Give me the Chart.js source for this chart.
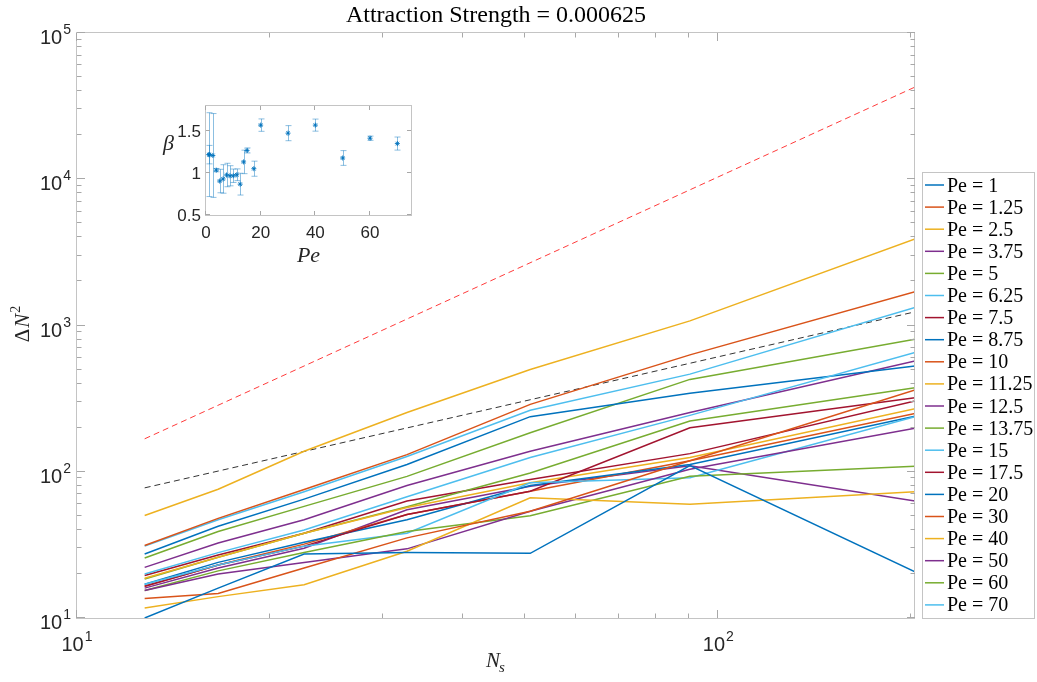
<!DOCTYPE html>
<html>
<head>
<meta charset="utf-8">
<script src="https://cdn.jsdelivr.net/npm/chart.js@4"></script>
<style>
  html, body { margin: 0; padding: 0; background: #fff; }
  #wrap { position: relative; width: 1037px; height: 682px; }
  #main { position: absolute; left: 0; top: 0; }
  #inset { position: absolute; left: 150px; top: 95px; }
</style>
</head>
<body>
<div id="wrap">
  <canvas id="main" width="1037" height="682"></canvas>
  <canvas id="inset" width="270" height="180"></canvas>
</div>
<script>
// Segment counts N_s at which the fluctuation was measured
const NS = [12.75, 16.6, 22.6, 32.7, 50.9, 90.3, 202.6];

// Péclet numbers of the runs
const PE_LABELS = ['1', '1.25', '2.5', '3.75', '5', '6.25', '7.5', '8.75', '10', '11.25',
                   '12.5', '13.75', '15', '17.5', '20', '30', '40', '50', '60', '70'];

// ΔN² for each Péclet number, one value per N_s
const dn2_pe1     = [10.0, 16.0, 27.4, 28.0, 27.7, 110, 20.7];
const dn2_pe1_25  = [13.6, 14.7, 22.0, 35.3, 53.7, 119, 362];
const dn2_pe2_5   = [11.7, 14.0, 16.9, 28.6, 66.4, 60, 73];
const dn2_pe3_75  = [15.4, 20.0, 24.0, 29.7, 53.7, 104, 198];
const dn2_pe5     = [15.4, 21.0, 28.0, 39.0, 50.1, 93, 109];
const dn2_pe6_25  = [17.0, 23.0, 31.0, 38.0, 84.0, 91, 238];
const dn2_pe7_5   = [16.5, 23.0, 31.0, 51.0, 73.6, 200, 321];
const dn2_pe8_75  = [17.0, 24.0, 33.0, 47.0, 80.6, 112, 240];
const dn2_pe10    = [16.5, 23.0, 32.0, 51.0, 73.6, 119, 250];
const dn2_pe11_25 = [18.7, 26.0, 38.0, 57.0, 84.0, 125, 270];
const dn2_pe12_5  = [16.0, 22.0, 30.0, 55.0, 79.6, 110, 63];
const dn2_pe13_75 = [18.5, 26.0, 38.0, 57.6, 98.0, 222, 376];
const dn2_pe15    = [20.0, 28.0, 40.0, 67.4, 125, 243, 653];
const dn2_pe17_5  = [19.5, 27.0, 38.0, 63.0, 88.5, 133, 305];
const dn2_pe20    = [27.4, 42.4, 65.0, 112, 238, 344, 529];
const dn2_pe30    = [31.3, 48.0, 75.7, 131, 289, 630, 1700];
const dn2_pe40    = [50.2, 76.0, 138, 254, 500, 1075, 3900];
const dn2_pe50    = [22.2, 32.6, 47.0, 80.6, 138, 254, 573];
const dn2_pe60    = [25.7, 39.0, 58.0, 93.0, 185, 428, 805];
const dn2_pe70    = [31.0, 47.0, 73.0, 127, 263, 465, 1330];

const SERIES = [dn2_pe1, dn2_pe1_25, dn2_pe2_5, dn2_pe3_75, dn2_pe5, dn2_pe6_25, dn2_pe7_5,
                dn2_pe8_75, dn2_pe10, dn2_pe11_25, dn2_pe12_5, dn2_pe13_75, dn2_pe15,
                dn2_pe17_5, dn2_pe20, dn2_pe30, dn2_pe40, dn2_pe50, dn2_pe60, dn2_pe70];

// Reference power laws, given at the first and last N_s
const REF_NS = [12.75, 202.6];
const REF_SLOPE2 = [168, 42700];
const REF_SLOPE1 = [77.6, 1240];

// Inset: fitted exponent β against Pe with its uncertainty
const PE_VALUES = [1, 1.25, 2.5, 3.75, 5, 6.25, 7.5, 8.75, 10, 11.25, 12.5, 13.75, 15, 17.5, 20, 30, 40, 50, 60, 70];
const BETA      = [1.22, 1.22, 1.21, 1.035, 0.905, 0.93, 0.977, 0.968, 0.968, 0.98, 0.868, 1.133, 1.27, 1.052, 1.572, 1.476, 1.572, 1.18, 1.416, 1.352];
const BETA_ERR  = [0.11, 0.5, 0.5, 0.02, 0.14, 0.17, 0.14, 0.12, 0.08, 0.07, 0.13, 0.14, 0.03, 0.09, 0.074, 0.09, 0.072, 0.088, 0.025, 0.078];

// MATLAB default line colour order
const COLOR_ORDER = ['#0072BD', '#D95319', '#EDB120', '#7E2F8E', '#77AC30', '#4DBEEE', '#A2142F'];

const SANS = '"Liberation Sans", Arial, Helvetica, sans-serif';
const SERIF = '"Liberation Serif", "Times New Roman", serif';
const TEXT = '#262626';
const BOX = '#c4c4c4';
const TICK = '#a8a8a8';

function line(ctx, x1, y1, x2, y2) {
  ctx.beginPath(); ctx.moveTo(x1, y1); ctx.lineTo(x2, y2); ctx.stroke();
}

// "10" with a raised exponent
function powLabel(ctx, exp, x, base, align) {
  ctx.font = '20px ' + SANS;
  const w1 = ctx.measureText('10').width;
  ctx.font = '14px ' + SANS;
  const w2 = ctx.measureText(String(exp)).width;
  const x0 = align === 'right' ? x - w1 - w2 - 1 : x - (w1 + w2 + 1) / 2;
  ctx.textAlign = 'left';
  ctx.textBaseline = 'alphabetic';
  ctx.fillStyle = TEXT;
  ctx.font = '20px ' + SANS;
  ctx.fillText('10', x0, base);
  ctx.font = '14px ' + SANS;
  ctx.fillText(String(exp), x0 + w1 + 1, base - 10);
}

const mainDecor = {
  id: 'mainDecor',
  afterDatasetsDraw(chart) {
    const { ctx, chartArea: a, scales: { x, y } } = chart;
    ctx.save();
    ctx.lineWidth = 1;

    // axes box
    ctx.strokeStyle = BOX;
    ctx.strokeRect(Math.round(a.left) - 0.5, Math.round(a.top) - 0.5,
                   Math.round(a.right - a.left), Math.round(a.bottom - a.top) + 1);

    // inward log ticks on all four sides
    ctx.strokeStyle = TICK;
    for (let k = 1; k <= 5; k++) {
      for (let m = 1; m <= 9; m++) {
        const v = m * Math.pow(10, k);
        if (v > y.max * 1.0001) break;
        const py = Math.round(y.getPixelForValue(v)) - 0.5;
        const L = m === 1 ? 8 : 4.5;
        line(ctx, a.left, py, a.left + L, py);
        line(ctx, a.right, py, a.right - L, py);
      }
    }
    for (let k = 1; k <= 2; k++) {
      for (let m = 1; m <= 9; m++) {
        const v = m * Math.pow(10, k);
        if (v > x.max * 1.0001) break;
        const px = Math.round(x.getPixelForValue(v)) - 0.5;
        const L = m === 1 ? 8 : 4.5;
        line(ctx, px, a.bottom, px, a.bottom - L);
        line(ctx, px, a.top, px, a.top + L);
      }
    }

    // tick labels
    for (let k = 1; k <= 5; k++) {
      powLabel(ctx, k, 71, y.getPixelForValue(Math.pow(10, k)) + 11, 'right');
    }
    for (let k = 1; k <= 2; k++) {
      powLabel(ctx, k, x.getPixelForValue(Math.pow(10, k)), a.bottom + 32.5, 'center');
    }

    // title
    ctx.fillStyle = '#000';
    ctx.textAlign = 'center';
    ctx.textBaseline = 'alphabetic';
    ctx.font = '24px ' + SERIF;
    ctx.fillText('Attraction Strength = 0.000625', (a.left + a.right) / 2, 22);

    // x label: N_s
    {
      ctx.textAlign = 'left';
      ctx.font = 'italic 21px ' + SERIF;
      const wN = ctx.measureText('N').width;
      ctx.font = 'italic 15px ' + SERIF;
      const ws = ctx.measureText('s').width;
      const x0 = (a.left + a.right) / 2 - (wN + ws) / 2;
      ctx.fillStyle = TEXT;
      ctx.font = 'italic 21px ' + SERIF;
      ctx.fillText('N', x0, 667);
      ctx.font = 'italic 15px ' + SERIF;
      ctx.fillText('s', x0 + wN - 1, 672);
    }

    // y label: ΔN²
    {
      ctx.save();
      ctx.translate(29, 324);
      ctx.rotate(-Math.PI / 2);
      ctx.textAlign = 'left';
      ctx.font = '21px ' + SERIF;
      const wD = ctx.measureText('Δ').width;
      ctx.font = 'italic 21px ' + SERIF;
      const wN = ctx.measureText('N').width;
      ctx.font = '14px ' + SERIF;
      const w2 = ctx.measureText('2').width;
      const x0 = -(wD + wN + w2 + 2) / 2;
      ctx.fillStyle = TEXT;
      ctx.font = '21px ' + SERIF;
      ctx.fillText('Δ', x0, 0);
      ctx.font = 'italic 21px ' + SERIF;
      ctx.fillText('N', x0 + wD + 1, 0);
      ctx.font = '14px ' + SERIF;
      ctx.fillText('2', x0 + wD + wN + 2, -9);
      ctx.restore();
    }

    // legend
    {
      const lx = 922, ly = 172, lw = 112, lh = 446;
      ctx.fillStyle = '#fff';
      ctx.fillRect(lx, ly, lw, lh);
      ctx.strokeStyle = BOX;
      ctx.strokeRect(lx + 0.5, ly + 0.5, lw, lh);
      const items = chart.data.datasets.filter(d => d.inLegend);
      items.forEach((d, i) => {
        const cy = 185 + i * 22.1;
        ctx.strokeStyle = d.borderColor;
        ctx.lineWidth = 1.5;
        line(ctx, 925, cy, 944, cy);
        ctx.fillStyle = '#000';
        ctx.font = '20px ' + SERIF;
        ctx.textAlign = 'left';
        ctx.textBaseline = 'alphabetic';
        ctx.fillText(d.label, 947, cy + 6.5);
      });
    }
    ctx.restore();
  }
};

const datasets = SERIES.map((vals, i) => ({
  label: 'Pe = ' + PE_LABELS[i],
  inLegend: true,
  data: NS.map((n, j) => ({ x: n, y: vals[j] })),
  borderColor: COLOR_ORDER[i % COLOR_ORDER.length],
  borderWidth: 1.5,
  pointRadius: 0,
  fill: false,
  tension: 0
}));
datasets.push({
  label: 'slope 2',
  inLegend: false,
  data: REF_NS.map((n, j) => ({ x: n, y: REF_SLOPE2[j] })),
  borderColor: '#ff3b3b',
  borderWidth: 1,
  borderDash: [6, 4],
  pointRadius: 0
});
datasets.push({
  label: 'slope 1',
  inLegend: false,
  data: REF_NS.map((n, j) => ({ x: n, y: REF_SLOPE1[j] })),
  borderColor: '#333333',
  borderWidth: 1,
  borderDash: [6, 4],
  pointRadius: 0
});

new Chart(document.getElementById('main'), {
  type: 'line',
  data: { datasets },
  options: {
    responsive: false,
    animation: false,
    devicePixelRatio: 1,
    layout: { padding: { top: 33, right: 122, left: 0, bottom: 0 } },
    plugins: { legend: { display: false }, tooltip: { enabled: false }, title: { display: false } },
    scales: {
      x: {
        type: 'logarithmic', min: 10, max: NS[NS.length - 1],
        ticks: { display: false }, grid: { display: false }, border: { display: false },
        afterFit(s) { s.height = 64; }
      },
      y: {
        type: 'logarithmic', min: 10, max: 1e5,
        ticks: { display: false }, grid: { display: false }, border: { display: false },
        afterFit(s) { s.width = 77; }
      }
    }
  },
  plugins: [mainDecor]
});

// ---------- inset: β vs Pe ----------
const insetDecor = {
  id: 'insetDecor',
  beforeDatasetsDraw(chart) {
    const { ctx, chartArea: a, scales: { x, y } } = chart;
    ctx.save();
    ctx.fillStyle = '#fff';
    ctx.fillRect(a.left, a.top, a.right - a.left, a.bottom - a.top);
    // error bars
    ctx.strokeStyle = 'rgba(0,114,189,0.45)';
    ctx.lineWidth = 1;
    PE_VALUES.forEach((p, i) => {
      const px = Math.round(x.getPixelForValue(p)) + 0.5;
      const yt = y.getPixelForValue(BETA[i] + BETA_ERR[i]);
      const yb = y.getPixelForValue(BETA[i] - BETA_ERR[i]);
      line(ctx, px, yt, px, yb);
      line(ctx, px - 3, yt, px + 3, yt);
      line(ctx, px - 3, yb, px + 3, yb);
    });
    ctx.restore();
  },
  afterDatasetsDraw(chart) {
    const { ctx, chartArea: a, scales: { x, y } } = chart;
    ctx.save();
    ctx.lineWidth = 1;
    ctx.strokeStyle = BOX;
    ctx.strokeRect(Math.round(a.left) - 0.5, Math.round(a.top) - 0.5,
                   Math.round(a.right - a.left) + 1, Math.round(a.bottom - a.top) + 1);
    ctx.strokeStyle = TICK;
    const yTicks = [0.5, 1, 1.5];
    const xTicks = [0, 20, 40, 60];
    yTicks.forEach(v => {
      const py = Math.round(y.getPixelForValue(v)) - 0.5;
      line(ctx, a.left, py, a.left + 4, py);
      line(ctx, a.right, py, a.right - 4, py);
    });
    xTicks.forEach(v => {
      const px = Math.round(x.getPixelForValue(v)) - 0.5;
      line(ctx, px, a.bottom, px, a.bottom - 4);
      line(ctx, px, a.top, px, a.top + 4);
    });
    ctx.fillStyle = TEXT;
    ctx.font = '17px ' + SANS;
    ctx.textAlign = 'right';
    ctx.textBaseline = 'middle';
    yTicks.forEach(v => ctx.fillText(String(v), a.left - 5, y.getPixelForValue(v) + 1));
    ctx.textAlign = 'center';
    xTicks.forEach(v => ctx.fillText(String(v), x.getPixelForValue(v), a.bottom + 18));
    // axis labels
    ctx.textBaseline = 'alphabetic';
    ctx.font = 'italic 22px ' + SERIF;
    ctx.fillText('Pe', (a.left + a.right) / 2, a.bottom + 47);
    ctx.textAlign = 'left';
    ctx.fillText('β', 13, 55);
    ctx.restore();
  }
};

new Chart(document.getElementById('inset'), {
  type: 'scatter',
  data: {
    datasets: [{
      data: PE_VALUES.map((p, i) => ({ x: p, y: BETA[i] })),
      pointStyle: 'star',
      pointRadius: 2.5,
      borderColor: 'rgba(0,114,189,0.9)',
      backgroundColor: 'rgba(0,114,189,0.9)',
      borderWidth: 1
    }]
  },
  options: {
    responsive: false,
    animation: false,
    devicePixelRatio: 1,
    layout: { padding: { top: 11, right: 9, left: 0, bottom: 0 } },
    plugins: { legend: { display: false }, tooltip: { enabled: false } },
    scales: {
      x: {
        type: 'linear', min: 0, max: 75,
        ticks: { display: false }, grid: { display: false }, border: { display: false },
        afterFit(s) { s.height = 60; }
      },
      y: {
        type: 'linear', min: 0.5, max: 1.8,
        ticks: { display: false }, grid: { display: false }, border: { display: false },
        afterFit(s) { s.width = 56; }
      }
    }
  },
  plugins: [insetDecor]
});
</script>
</body>
</html>
